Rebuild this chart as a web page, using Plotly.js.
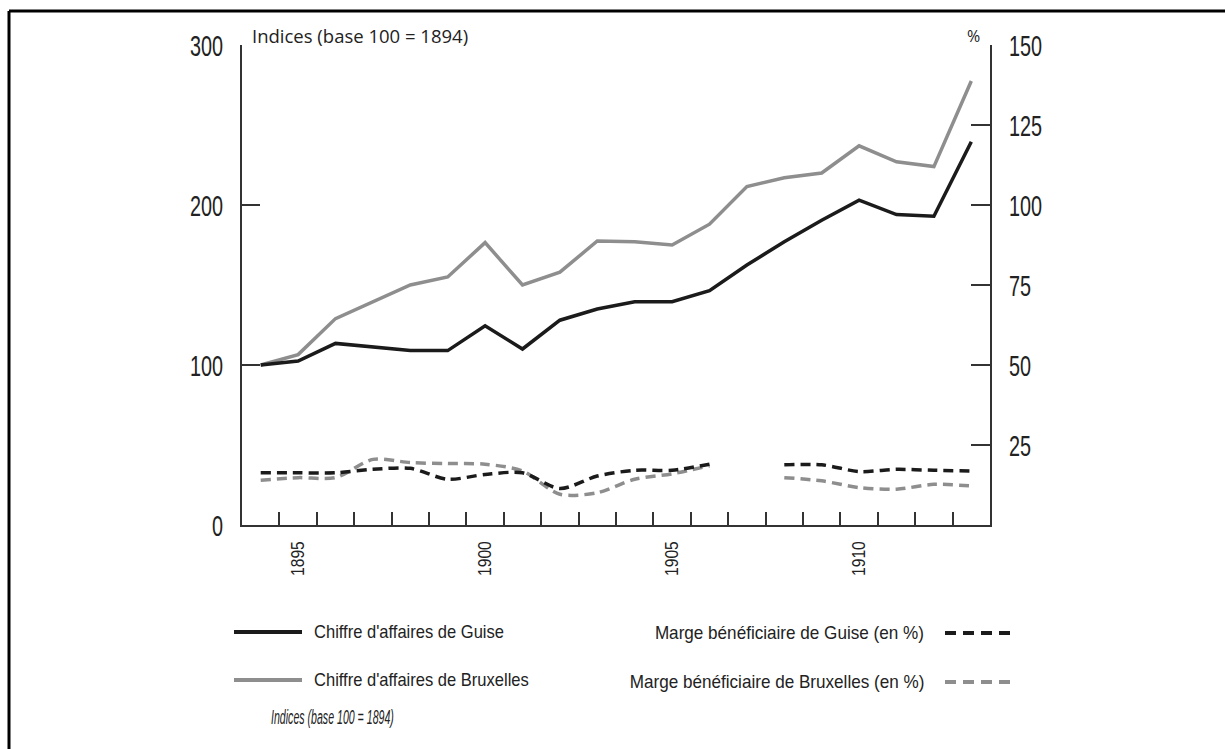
<!DOCTYPE html>
<html>
<head>
<meta charset="utf-8">
<script src="https://cdn.plot.ly/plotly-3.0.1.min.js"></script>
<style>html,body{margin:0;padding:0;background:#fff;}#chart{width:1225px;height:749px;}</style>
</head>
<body>
<div id="chart"></div>
<script>
// ---- data ----
var years = [1894,1895,1896,1897,1898,1899,1900,1901,1902,1903,1904,1905,1906,1907,1908,1909,1910,1911,1912,1913];
var caGuise = [100,102.5,113.5,111,109,109,124.5,110,128,135,139.5,139.5,146.5,162.5,177,190.5,203,194,193,239.5];
var caBruxelles = [100,106.5,129,139.5,150,155,176.5,150,158,177.5,177,175,188,211.5,217,220,237,227,224,277.5];
var margeGuise = [16.3,16.3,16.3,17.4,17.7,14.3,15.8,16.3,11.4,15.3,17.1,17.1,19.0,null,18.8,18.8,16.7,17.4,17.1,16.9];
var margeBruxelles = [14.0,14.8,14.8,20.5,19.5,19.2,19.0,16.9,9.6,10.1,14.3,16.0,18.5,null,14.8,13.8,11.7,11.2,12.7,12.2];
var yearLabels = [1895,1900,1905,1910];
var leftTicks = [0,100,200,300];
var rightTicks = [25,50,75,100,125,150];

var names = {
  caG: "Chiffre d'affaires de Guise",
  caB: "Chiffre d'affaires de Bruxelles",
  mG: "Marge bénéficiaire de Guise (en %)",
  mB: "Marge bénéficiaire de Bruxelles (en %)",
  idx: "Indices (base 100 = 1894)"
};

var BLACK = '#1b1b1b', GREY = '#8e8e8e', AX = '#333333';
var NARROW = '"Liberation Sans", Arial, sans-serif';
var SANS = '"Open Sans", "Noto Sans", sans-serif';

var boundaries = years.slice(1).map(function(y){ return y - 0.5; });

var traces = [
  {x: years, y: margeBruxelles, yaxis: 'y2', mode: 'lines', name: names.mB,
   line: {color: GREY, width: 3.5, dash: '10px,6px', shape: 'spline', smoothing: 0.8}, connectgaps: false},
  {x: years, y: margeGuise, yaxis: 'y2', mode: 'lines', name: names.mG,
   line: {color: BLACK, width: 3.5, dash: '10px,6px', shape: 'spline', smoothing: 0.8}, connectgaps: false},
  {x: years, y: caBruxelles, mode: 'lines', name: names.caB,
   line: {color: GREY, width: 3.5}},
  {x: years, y: caGuise, mode: 'lines', name: names.caG,
   line: {color: BLACK, width: 3.5}}
];

function px2x(px){ return (px - 242) / 748; }
function py2y(py){ return (525 - py) / 480; }

var layout = {
  width: 1225, height: 749,
  margin: {l: 242, r: 235, t: 45, b: 224, pad: 0},
  paper_bgcolor: '#ffffff', plot_bgcolor: '#ffffff',
  showlegend: false,
  xaxis: {
    range: [1893.5, 1913.5], showgrid: false, zeroline: false,
    showline: true, linecolor: AX, linewidth: 2,
    tickmode: 'array', tickvals: yearLabels, ticktext: yearLabels.map(String),
    ticks: '', tickangle: -90, ticklabelstandoff: 7,
    tickfont: {family: NARROW, size: 18, color: '#222'},
    minor: {tickmode: 'array', tickvals: boundaries, ticks: 'inside', ticklen: 13, tickwidth: 2, tickcolor: AX, showgrid: false}
  },
  yaxis: {
    range: [0, 300], showgrid: false, zeroline: false,
    showline: true, linecolor: AX, linewidth: 2,
    tickmode: 'array', tickvals: leftTicks, ticktext: leftTicks.map(String),
    ticks: 'inside', ticklen: 18, tickwidth: 2, tickcolor: AX, ticklabelstandoff: 11,
    tickfont: {family: NARROW, size: 30, color: '#222'}
  },
  yaxis2: {
    range: [0, 150], overlaying: 'y', side: 'right', anchor: 'x',
    showgrid: false, zeroline: false,
    showline: true, linecolor: AX, linewidth: 2,
    tickmode: 'array', tickvals: rightTicks, ticktext: rightTicks.map(String),
    ticks: 'inside', ticklen: 19, tickwidth: 2, tickcolor: AX, ticklabelstandoff: 11,
    tickfont: {family: NARROW, size: 30, color: '#222'}
  },
  shapes: [
    {type: 'line', xref: 'paper', yref: 'paper', x0: px2x(9), x1: px2x(1225), y0: py2y(11), y1: py2y(11), line: {color: '#000', width: 3}},
    {type: 'line', xref: 'paper', yref: 'paper', x0: px2x(9), x1: px2x(9), y0: py2y(11), y1: py2y(749), line: {color: '#000', width: 3}},
    {type: 'line', xref: 'paper', yref: 'paper', x0: px2x(234), x1: px2x(302), y0: py2y(632), y1: py2y(632), line: {color: BLACK, width: 4}},
    {type: 'line', xref: 'paper', yref: 'paper', x0: px2x(234), x1: px2x(302), y0: py2y(680), y1: py2y(680), line: {color: GREY, width: 4}},
    {type: 'line', xref: 'paper', yref: 'paper', x0: px2x(945), x1: px2x(1010), y0: py2y(633), y1: py2y(633), line: {color: BLACK, width: 4, dash: '11px,7px'}},
    {type: 'line', xref: 'paper', yref: 'paper', x0: px2x(945), x1: px2x(1010), y0: py2y(682), y1: py2y(682), line: {color: GREY, width: 4, dash: '11px,7px'}}
  ],
  annotations: [
    {text: names.idx, xref: 'paper', yref: 'paper', x: px2x(250), y: py2y(35), xanchor: 'left', yanchor: 'middle', showarrow: false,
     font: {family: SANS, size: 18.5, color: '#222'}},
    {text: '%', xref: 'paper', yref: 'paper', x: px2x(973), y: py2y(36), xanchor: 'center', yanchor: 'middle', showarrow: false,
     font: {family: SANS, size: 16, color: '#222'}},
    {text: names.caG, xref: 'paper', yref: 'paper', x: px2x(312), y: py2y(631), xanchor: 'left', yanchor: 'middle', showarrow: false,
     font: {family: NARROW, size: 19, color: '#222'}},
    {text: names.caB, xref: 'paper', yref: 'paper', x: px2x(312), y: py2y(679), xanchor: 'left', yanchor: 'middle', showarrow: false,
     font: {family: NARROW, size: 19, color: '#222'}},
    {text: '<i>' + names.idx + '</i>', xref: 'paper', yref: 'paper', x: px2x(269), y: py2y(717), xanchor: 'left', yanchor: 'middle', showarrow: false,
     font: {family: NARROW, size: 20, color: '#222'}},
    {text: names.mG, xref: 'paper', yref: 'paper', x: px2x(926), y: py2y(632), xanchor: 'right', yanchor: 'middle', showarrow: false,
     font: {family: NARROW, size: 19, color: '#222'}},
    {text: names.mB, xref: 'paper', yref: 'paper', x: px2x(926), y: py2y(681), xanchor: 'right', yanchor: 'middle', showarrow: false,
     font: {family: NARROW, size: 19, color: '#222'}}
  ]
};

// horizontally condense rendered text (the reference uses a condensed face)
function squeeze(nodes, factor) {
  nodes.forEach(function(t){
    var w = t.getComputedTextLength();
    if (!w) return;
    t.setAttribute('textLength', (w * factor).toFixed(2));
    t.setAttribute('lengthAdjust', 'spacingAndGlyphs');
  });
}

Plotly.newPlot('chart', traces, layout, {displayModeBar: false, staticPlot: true}).then(function(gd){
  var q = function(s){ return Array.prototype.slice.call(gd.querySelectorAll(s)); };
  squeeze(q('g.ytick text'), 0.66);
  squeeze(q('g.y2tick text'), 0.66);
  squeeze(q('g.xtick text'), 0.87);
  // factor and which edge to keep fixed (-1 = left edge, +1 = right edge)
  var annSqueeze = {2: [0.87, -1], 3: [0.87, -1], 4: [0.53, -1], 5: [0.9, 1], 6: [0.9, 1]};
  q('g.annotation').forEach(function(g){
    var i = +g.getAttribute('data-index');
    var s = annSqueeze[i];
    if (!s) return;
    var t = g.querySelector('text.annotation-text');
    if (!t) return;
    var w = t.getComputedTextLength();
    t.setAttribute('textLength', (w * s[0]).toFixed(2));
    t.setAttribute('lengthAdjust', 'spacingAndGlyphs');
    if (t.getAttribute('text-anchor') === 'middle') {
      var shift = s[1] * w * (1 - s[0]) / 2;
      var x = parseFloat(t.getAttribute('x') || 0);
      t.setAttribute('x', (x + shift).toFixed(2));
      Array.prototype.slice.call(t.querySelectorAll('tspan[x]')).forEach(function(sp){
        sp.setAttribute('x', (parseFloat(sp.getAttribute('x')) + shift).toFixed(2));
      });
    }
  });
});
</script>
</body>
</html>
